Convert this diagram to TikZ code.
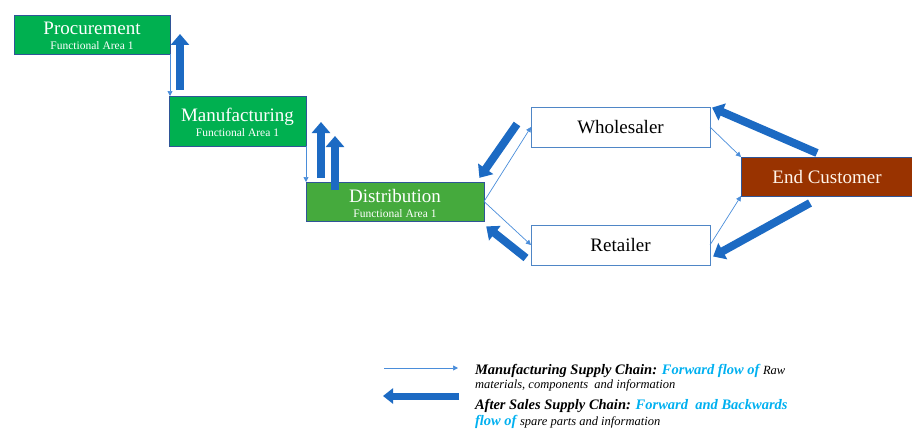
\documentclass[tikz,border=0pt]{standalone}
\usepackage{fontspec}
\setmainfont{Liberation Serif}
\usetikzlibrary{arrows.meta}

\definecolor{procgreen}{HTML}{00B050}
\definecolor{distgreen}{HTML}{45AA3D}
\definecolor{boxedge}{HTML}{2F5597}
\definecolor{lightedge}{HTML}{4F86C6}
\definecolor{custbrown}{HTML}{993300}
\definecolor{thinblue}{HTML}{4A8DDA}
\definecolor{thickblue}{HTML}{1C6AC3}
\definecolor{flowcyan}{HTML}{00B0F0}

\tikzset{
  areabox/.style={draw=boxedge, line width=0.6pt, inner sep=0pt, outer sep=0pt},
  areatitle/.style={anchor=base, inner sep=0pt, outer sep=0pt, text=white,
    font=\fontsize{19}{19}\selectfont},
  areasub/.style={anchor=base, inner sep=0pt, outer sep=0pt, text=white,
    font=\fontsize{11.5}{11.5}\selectfont},
  partner/.style={draw=lightedge, line width=0.8pt, fill=white, inner sep=0pt,
    outer sep=0pt, text height=13pt, text depth=0pt,
    font=\fontsize{19}{19}\selectfont, text=black},
  forward/.style={draw=thinblue, line width=0.7pt,
    -{Triangle[width=5pt,length=5pt]}},
  backflow/.style={draw=thickblue, line width=8pt,
    -{Triangle[width=18pt,length=11pt]}, shorten >=-1pt},
  legendtext/.style={anchor=base west, inner sep=0pt, outer sep=0pt},
  legbold/.style={font=\fontsize{14.5}{14.5}\selectfont\bfseries\itshape},
  legplain/.style={font=\fontsize{12.5}{12.5}\selectfont\itshape}
}

\begin{document}
\begin{tikzpicture}[x=1pt, y=-1pt]
  \useasboundingbox (0,0) rectangle (912,428);

  % functional areas
  \node[areabox, fill=procgreen, minimum width=156pt, minimum height=39pt] (proc) at (92,34.5) {};
  \node[areatitle] (procT) at (92,35) {Procurement};
  \node[areasub] (procS) at (92,50) {Functional Area 1};

  \node[areabox, fill=procgreen, minimum width=137pt, minimum height=50pt] (manu) at (237.5,121) {};
  \node[areatitle] (manuT) at (237.5,121) {Manufacturing};
  \node[areasub] (manuS) at (237.5,136) {Functional Area 1};

  \node[areabox, fill=distgreen, minimum width=178pt, minimum height=39pt] (dist) at (395,201.5) {};
  \node[areatitle] (distT) at (395,202) {Distribution};
  \node[areasub] (distS) at (395,217) {Functional Area 1};

  % trading partners
  \node[partner, minimum width=179pt, minimum height=40pt] (whole) at (620.5,127) {Wholesaler};
  \node[partner, minimum width=179pt, minimum height=40pt] (ret) at (620.5,245) {Retailer};
  \node[areabox, fill=custbrown, minimum width=172pt, minimum height=39pt,
    text height=13pt, text depth=0pt, font=\fontsize{19}{19}\selectfont,
    text=white!92!orange] (cust) at (827,176.5) {End Customer};

  % forward flow (manufacturing supply chain)
  \draw[forward] (proc.south east) -- (proc.south east |- manu.north);
  \draw[forward] (manu.south east) -- (manu.south east |- dist.north);
  \draw[forward] (dist.east) -- (whole.west);
  \draw[forward] (dist.east) -- (ret.west);
  \draw[forward] (whole.east) -- (cust.north west);
  \draw[forward] (ret.east) -- (cust.south west);

  % after-sales flow (thick arrows)
  \coordinate (b1s) at (180,90);   \coordinate (b1e) at (180,35);
  \coordinate (b2s) at (321,178);  \coordinate (b2e) at (321,123);
  \coordinate (b3s) at (335,190);  \coordinate (b3e) at (335,137);
  \coordinate (b4s) at (517,124);  \coordinate (b4e) at (480,177);
  \coordinate (b5s) at (526,258);  \coordinate (b5e) at (487,227);
  \coordinate (b6s) at (817,153);  \coordinate (b6e) at (713,108);
  \coordinate (b7s) at (810,203);  \coordinate (b7e) at (714,256);
  \draw[backflow] (b1s) -- (b1e);
  \draw[backflow] (b2s) -- (b2e);
  \draw[backflow] (b3s) -- (b3e);
  \draw[backflow] (b4s) -- (b4e);
  \draw[backflow] (b5s) -- (b5e);
  \draw[backflow] (b6s) -- (b6e);
  \draw[backflow] (b7s) -- (b7e);

  % legend
  \coordinate (l1s) at (384,368); \coordinate (l1e) at (458,368);
  \coordinate (l2s) at (459,396); \coordinate (l2e) at (384,396);
  \draw[forward] (l1s) -- (l1e);
  \draw[backflow, line width=7pt, -{Triangle[width=15pt,length=10pt]}] (l2s) -- (l2e);

  \node[legendtext, legbold] (leg1) at (475,374)
    {Manufacturing Supply Chain: \textcolor{flowcyan}{Forward flow of} {\mdseries\fontsize{12.5}{12.5}\selectfont Raw}};
  \node[legendtext, legplain] (leg2) at (475,388)
    {materials, components\ \ and information};
  \node[legendtext, legbold] (leg3) at (475,409)
    {After Sales Supply Chain: \textcolor{flowcyan}{Forward\ \ and Backwards}};
  \node[legendtext, legbold] (leg4) at (475,425)
    {\textcolor{flowcyan}{flow of} {\mdseries\fontsize{12.5}{12.5}\selectfont spare parts and information}};
\end{tikzpicture}
\end{document}
